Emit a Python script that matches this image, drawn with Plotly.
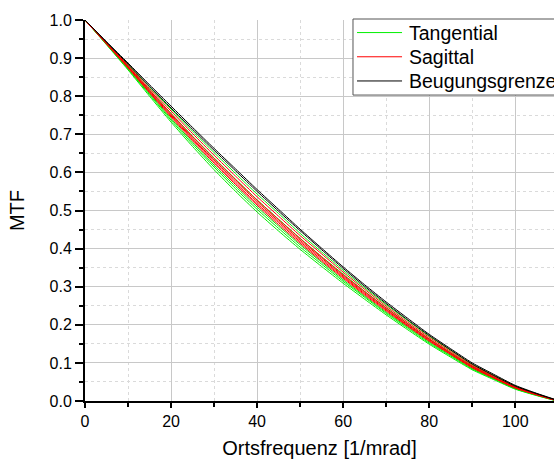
import plotly.graph_objects as go

freq = [0, 5, 10, 15, 20, 25, 30, 35, 40, 45, 50, 55, 60, 65, 70, 75, 80, 85, 90, 95, 100, 105, 109]

tangential = [
    [1.000, .935, .869, .800, .732, .668, .607, .550, .496, .446, .398, .353, .309, .267, .226, .187, .149, .115, .082, .056, .031, .014, .002],
    [1.000, .936, .871, .804, .737, .674, .614, .557, .503, .453, .404, .359, .314, .272, .230, .191, .152, .118, .084, .058, .032, .015, .002],
    [1.000, .937, .873, .807, .741, .679, .619, .563, .509, .459, .410, .364, .318, .275, .233, .194, .155, .120, .086, .059, .033, .015, .003],
    [1.000, .939, .879, .816, .755, .695, .638, .582, .528, .477, .427, .379, .333, .288, .245, .203, .163, .127, .092, .064, .036, .017, .004],
    [1.000, .941, .883, .824, .766, .708, .652, .597, .543, .492, .440, .391, .343, .297, .253, .211, .170, .133, .096, .067, .039, .019, .004],
]
sagittal = [
    [1.000, .937, .874, .809, .745, .683, .624, .568, .514, .463, .414, .367, .322, .278, .236, .196, .157, .122, .087, .060, .034, .016, .003],
    [1.000, .938, .876, .811, .748, .687, .628, .572, .518, .468, .418, .371, .325, .281, .239, .198, .159, .123, .089, .061, .035, .016, .003],
    [1.000, .939, .877, .813, .751, .690, .632, .577, .523, .472, .422, .375, .328, .284, .241, .200, .161, .125, .090, .062, .035, .017, .003],
    [1.000, .939, .878, .816, .754, .694, .636, .581, .527, .476, .426, .378, .331, .287, .244, .203, .163, .126, .091, .063, .036, .017, .004],
    [1.000, .940, .881, .820, .761, .702, .645, .590, .536, .485, .434, .386, .338, .293, .249, .207, .167, .130, .094, .066, .038, .018, .004],
]
diffraction = [
    [1.000, .943, .887, .830, .774, .718, .663, .609, .555, .503, .451, .401, .352, .305, .260, .217, .175, .137, .100, .070, .041, .020, .005],
    [1.000, .942, .884, .826, .769, .713, .658, .604, .550, .498, .447, .397, .348, .301, .256, .213, .172, .134, .097, .067, .039, .019, .004],
]

series_names = ["Tangential", "Sagittal", "Beugungsgrenze"]
series_colors = ["#00f000", "#ff0000", "#000000"]
series_data = [tangential, sagittal, diffraction]

font_family = "Liberation Sans, Arial, sans-serif"

fig = go.Figure()
for name, color, curves in zip(series_names, series_colors, series_data):
    for ys in curves:
        fig.add_trace(go.Scatter(
            x=freq, y=ys, mode="lines", name=name, legendgroup=name,
            showlegend=False, line=dict(color=color, width=1, shape="spline", smoothing=0.6),
        ))

# Legend drawn as a box with line samples and text (paper coordinates)
shapes = [dict(type="rect", xref="paper", yref="paper", x0=0.5714, x1=1.08, y0=0.803, y1=1.0026,
               line=dict(color="#555555", width=1), fillcolor="white", layer="above")]
annotations = []
row_y = [0.967, 0.9035, 0.840]
for name, color, yy in zip(series_names, series_colors, row_y):
    shapes.append(dict(type="line", xref="paper", yref="paper", x0=0.580, x1=0.676, y0=yy, y1=yy,
                       line=dict(color=color, width=1), layer="above"))
    annotations.append(dict(xref="paper", yref="paper", x=0.6866, y=yy, xanchor="left", yanchor="middle",
                            text=name, showarrow=False, font=dict(size=19.5, family=font_family, color="black")))

fig.update_layout(
    width=554, height=459,
    margin=dict(l=85, r=0, t=20, b=58, autoexpand=False),
    paper_bgcolor="white", plot_bgcolor="white",
    font=dict(family=font_family, size=16, color="black"),
    showlegend=False,
    shapes=shapes,
    annotations=annotations,
    xaxis=dict(
        range=[0, 109], dtick=20, tick0=0,
        showline=True, linecolor="black", linewidth=2,
        ticks="outside", ticklen=5, tickwidth=1.5, tickcolor="black",
        showgrid=True, gridcolor="#c8c8c8", gridwidth=1,
        zeroline=False,
        minor=dict(dtick=10, ticks="outside", ticklen=4, tickcolor="black",
                   showgrid=True, gridcolor="#dadada", griddash="dot"),
        title=dict(text="Ortsfrequenz [1/mrad]", font=dict(size=20), standoff=17),
    ),
    yaxis=dict(
        range=[0, 1.0], dtick=0.1, tick0=0, tickformat=".1f",
        showline=True, linecolor="black", linewidth=2,
        ticks="outside", ticklen=8, tickwidth=1.5, tickcolor="black",
        showgrid=True, gridcolor="#c8c8c8", gridwidth=1,
        zeroline=False,
        minor=dict(dtick=0.05, ticks="outside", ticklen=4, tickcolor="black",
                   showgrid=True, gridcolor="#dadada", griddash="dot"),
        title=dict(text="MTF", font=dict(size=20), standoff=20),
    ),
)

fig.write_html(
    "out.html",
    config={"displayModeBar": False},
    post_script="document.body.style.margin='0';document.body.style.overflow='hidden';",
)
